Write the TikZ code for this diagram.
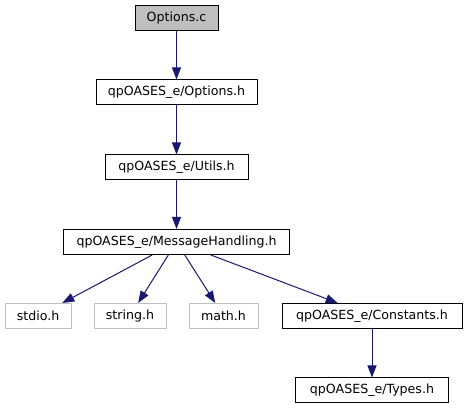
\documentclass[tikz,border=0pt]{standalone}
\usepackage{fontspec}
\setmainfont{DejaVu Sans}
\usetikzlibrary{arrows.meta}
\definecolor{edgeblue}{HTML}{191970}
\definecolor{lgray}{HTML}{BFBFBF}
\tikzset{
  box/.style={draw=black, line width=1pt, fill=white, minimum height=25pt, inner sep=0pt,
    font=\fontsize{12.6}{15}\selectfont},
  sysbox/.style={box, draw=lgray},
  mainbox/.style={box, fill=lgray},
  dep/.style={draw=edgeblue, line width=1pt, -{Triangle[length=12pt,width=9pt]}}
}
\begin{document}
\begin{tikzpicture}[x=1pt,y=-1pt]
\useasboundingbox (0,0) rectangle (466,411);
\node[mainbox, minimum width=83pt] (oc) at (176.5,18.5) {Options.c};
\node[box, minimum width=161pt] (oh) at (176.5,92.5) {qpOASES\_e/Options.h};
\node[box, minimum width=143pt] (uh) at (176.5,167.5) {qpOASES\_e/Utils.h};
\node[box, minimum width=226pt] (mh) at (176.5,242) {qpOASES\_e/MessageHandling.h};
\node[sysbox, minimum width=66pt] (stdio) at (38,316) {stdio.h};
\node[sysbox, minimum width=72pt] (string) at (130,316) {string.h};
\node[sysbox, minimum width=69pt] (math) at (223.5,316) {math.h};
\node[box, minimum width=180pt] (ch) at (372,316) {qpOASES\_e/Constants.h};
\node[box, minimum width=153pt] (th) at (372,390.5) {qpOASES\_e/Types.h};
\draw[dep] (oc) -- (oh);
\draw[dep] (oh) -- (uh);
\draw[dep] (uh) -- (mh);
\draw[dep] (mh) -- (stdio);
\draw[dep] (mh) -- (string);
\draw[dep] (mh) -- (math);
\draw[dep] (mh) -- (ch);
\draw[dep] (ch) -- (th);
\end{tikzpicture}
\end{document}
